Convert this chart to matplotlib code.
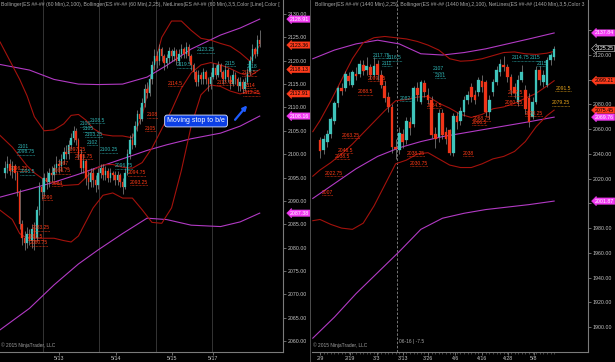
import matplotlib
matplotlib.use("Agg")
import matplotlib.pyplot as plt
import matplotlib.transforms as mtransforms
from matplotlib.ticker import FixedLocator, FixedFormatter
import numpy as np

plt.rcParams["font.family"] = ["Liberation Sans", "DejaVu Sans"]

# ---------------- 60 min panel (left) ----------------
left_first_open = 2096
left_close = [2097, 2098, 2096.5, 2097.5, 2096, 2092, 2085, 2082, 2081, 2083,
              2081.5, 2084, 2082, 2088, 2093, 2092, 2095, 2094, 2096, 2095.5,
              2097, 2098, 2097.5, 2099, 2100.5, 2100, 2102, 2103.5, 2105, 2103,
              2100, 2097, 2098.5, 2095, 2094, 2096, 2094.5, 2093.5, 2096, 2097,
              2095.5, 2096.5, 2095, 2096, 2095.5, 2094.5, 2095.5, 2094, 2093, 2096,
              2100, 2103, 2102, 2106, 2108.5, 2107.5, 2111, 2114, 2113, 2116,
              2119, 2121, 2120, 2122.5, 2121, 2119.5, 2120.5, 2122, 2121, 2122,
              2120, 2121.5, 2122.5, 2121.5, 2123, 2121, 2119, 2117.5, 2115.5, 2117,
              2116, 2117.5, 2116, 2115, 2116.5, 2118.5, 2117, 2119, 2117.5, 2116,
              2118, 2116.5, 2115, 2117, 2116, 2114.5, 2115.5, 2114, 2115.5, 2117.5,
              2120, 2122.5, 2121.5, 2124.5, 2123.5]
left_high = [2098.5, 2099.5, 2099, 2098.5, 2098, 2096.5, 2092.5, 2086, 2083.5, 2084.5,
             2084, 2085, 2085.5, 2089, 2094, 2095, 2096, 2096.5, 2097, 2097.5,
             2098, 2099.5, 2099, 2100, 2101.5, 2102, 2103, 2104.5, 2106, 2105.5,
             2103.5, 2101, 2100, 2099, 2096.5, 2097, 2097, 2095.5, 2097, 2098,
             2098, 2097.5, 2097, 2097, 2096.5, 2096.5, 2096.5, 2096, 2095, 2097,
             2101, 2104, 2104.5, 2107, 2109.5, 2110, 2112, 2115, 2115.5, 2117,
             2120, 2122.5, 2122, 2123.5, 2123, 2121.5, 2121.5, 2123, 2122.5, 2123,
             2122.5, 2122.5, 2123.5, 2123, 2124, 2123.5, 2121.5, 2119.5, 2118, 2118,
             2117.5, 2118.5, 2118, 2116.5, 2117.5, 2119.5, 2119, 2120, 2119.5, 2118,
             2119, 2118.5, 2117, 2118, 2117.5, 2116.5, 2116.5, 2116, 2116.5, 2118.5,
             2121, 2123.5, 2123, 2125.5, 2126.5]
left_low = [2095, 2096, 2095.5, 2095, 2094.5, 2091, 2084, 2080.5, 2079.5, 2080,
            2080.5, 2080, 2079.5, 2081.5, 2087, 2090.5, 2091, 2092.5, 2093, 2094,
            2094.5, 2096, 2096, 2096.5, 2098, 2099, 2099, 2101, 2102.5, 2102,
            2099, 2096, 2096, 2093.5, 2092.5, 2093, 2093, 2092, 2092.5, 2095,
            2094.5, 2094.5, 2094, 2094, 2094.5, 2093.5, 2093.5, 2093, 2091.5, 2092.5,
            2095.5, 2099, 2101, 2101.5, 2105, 2106.5, 2107, 2110, 2112, 2112.5,
            2115, 2118, 2118.5, 2119, 2120, 2118, 2118.5, 2119.5, 2120, 2120,
            2119, 2119, 2120.5, 2120.5, 2120.5, 2120, 2118, 2116, 2114.5, 2114.5,
            2115, 2115, 2115, 2113.5, 2114, 2116, 2116, 2116.5, 2116.5, 2115,
            2115.5, 2115.5, 2114, 2114.5, 2115, 2113.5, 2113.5, 2113, 2113.5, 2115,
            2117, 2119.5, 2120.5, 2121, 2123]
# intraday bars open at the previous close
left_open = [left_first_open] + left_close[:-1]

left_sessions = [15.5, 38.5, 61.5, 84.5]
left_date_pos = [22, 45.3, 68.2, 85]
left_date_lbl = ["5/13", "5/14", "5/15", "5/17"]

# Bollinger(2,25) read at sample bars
left_bb25_x = [-2, 3, 6, 9, 12, 16, 20, 24, 27, 30, 33, 36, 40, 44, 48, 52, 56,
               60, 64, 68, 72, 76, 80, 84, 88, 92, 96, 100, 104]
left_bb25_up = [2124, 2119, 2116, 2112.5, 2108, 2105, 2105.2, 2106.5, 2108.3, 2108.5,
                2107.3, 2105.5, 2104.2, 2103.9, 2103.9, 2103.5, 2108.2, 2117.2, 2125,
                2128.5, 2128.5, 2126.5, 2124.8, 2124.4, 2123.7, 2123.1, 2121.7, 2119.9, 2123.36]
left_bb25_mid = [2104, 2101.5, 2099.5, 2097.5, 2096, 2094.5, 2093.8, 2093.3, 2093.4, 2093.5,
                 2095, 2096.6, 2097.7, 2097.8, 2097.2, 2097, 2098.2, 2101.3, 2105.4,
                 2109.4, 2114.1, 2117.4, 2119.1, 2119.6, 2119.1, 2118.3, 2117.3, 2116.7, 2118.13]
left_bb25_lo = [2088, 2086, 2083, 2082, 2082, 2082, 2082, 2081.5, 2081.2, 2082.5,
                2085.5, 2088.5, 2091.2, 2091.7, 2090.6, 2090.6, 2088.1, 2085.4, 2085.2,
                2088.5, 2096.5, 2106, 2112.7, 2114.8, 2114.5, 2113.5, 2112.9, 2113.5, 2112.91]
# Bollinger(2,100) read at sample bars
left_bb100_x = [-2, 10, 20, 30, 38, 48, 58, 66, 76, 88, 96, 104]
left_bb100_up = [2119.2, 2118, 2116, 2115, 2114.9, 2115, 2116.5, 2119, 2122.5, 2125.5, 2127, 2128.91]
left_bb100_mid = [2090.8, 2092.5, 2094, 2095.7, 2097.2, 2099, 2100.8, 2102, 2103.3, 2104.5, 2106, 2108.16]
left_bb100_lo = [2062.4, 2067, 2072, 2076.5, 2079.5, 2083, 2086.3, 2086, 2084.8, 2084.5, 2085.5, 2087.38]

left_tags = [(2128.91, "pink"), (2123.36, "red"), (2118.13, "red"),
             (2112.91, "red"), (2108.16, "pink"), (2087.38, "pink")]

left_labels = [
    (5.3, 2101.7, "2101", "t"), (4.9, 2100.5, "2098.75", "t"), (2.0, 2097.0, "2096.25", "r"),
    (6.1, 2096.2, "2095.5", "t"), (21.6, 2097.9, "2087", "r"), (19.6, 2096.4, "2086.75", "r"),
    (19.2, 2093.8, "2084", "r"), (15.1, 2090.8, "2090", "r"), (11.0, 2084.2, "2083.25", "r"),
    (9.4, 2082.3, "2081.5", "r"), (10.2, 2081.0, "2080.75", "r"), (34.7, 2107.3, "2108.5", "t"),
    (30.6, 2106.5, "2106", "t"), (31.8, 2105.4, "2105", "t"), (32.7, 2104.3, "2103.25", "t"),
    (33.5, 2102.6, "2102", "t"), (38.8, 2100.9, "2100.25", "t"), (44.9, 2097.5, "2096.75", "t"),
    (50.2, 2096.0, "2094.75", "r"), (51.0, 2094.0, "2093.25", "r"), (57.1, 2105.6, "2105", "r"),
    (58.0, 2108.4, "2108", "r"), (25.7, 2101.1, "2097.25", "r"), (28.6, 2099.6, "2095.75", "r"),
    (66.5, 2115.2, "2114.5", "r"), (70.2, 2119.1, "2119.5", "t"), (78.4, 2122.3, "2123.25", "t"),
    (89.8, 2119.5, "2115", "t"), (98.8, 2118.7, "2118", "t"), (96.7, 2117.4, "2116.5", "r"),
    (86.5, 2115.4, "2113.75", "r"), (98.0, 2114.8, "2114", "r"), (97.1, 2113.1, "2112.25", "r"),
]

# ---------------- daily panel (right) ----------------
right_open = [2051, 2043, 2050, 2056, 2067, 2081, 2093, 2093, 2103, 2096,
              2105, 2105, 2112, 2108, 2110, 2104, 2113, 2104, 2095, 2086,
              2078, 2046, 2043, 2056, 2051, 2066, 2064, 2093, 2082, 2097,
              2088, 2084, 2056, 2054, 2073, 2058, 2059, 2041, 2071, 2067,
              2074, 2084, 2094, 2088, 2090, 2099, 2098, 2074, 2090, 2098,
              2106, 2112, 2110, 2102, 2094, 2082, 2100, 2092, 2085, 2070,
              2082, 2108, 2098, 2096, 2116, 2118]
right_close = [2042, 2052, 2056, 2068, 2081, 2093, 2091, 2105, 2099, 2106,
               2103, 2113, 2107, 2111, 2104, 2111, 2104, 2096, 2085, 2078,
               2046, 2044, 2057, 2050, 2067, 2061, 2093, 2088, 2098, 2090,
               2084, 2055, 2052, 2073, 2055, 2052, 2041, 2071, 2066, 2075,
               2084, 2088, 2086, 2084, 2100, 2094, 2074, 2084, 2098, 2108,
               2113, 2110, 2102, 2092, 2089, 2100, 2106, 2076, 2066, 2082,
               2108, 2100, 2104, 2116, 2120, 2125.25]
right_high = [2054, 2055, 2059, 2070, 2083, 2095, 2097, 2107, 2106, 2108,
              2110, 2116, 2116, 2118, 2113, 2118, 2116, 2108, 2099, 2090,
              2080, 2052, 2062, 2060, 2070, 2070, 2095, 2098, 2100, 2100,
              2093, 2087, 2062, 2076, 2076, 2062, 2060, 2073, 2074, 2078,
              2087, 2091, 2097, 2092, 2102, 2104, 2100, 2088, 2101, 2111,
              2117, 2119, 2113, 2105, 2097, 2104, 2112, 2096, 2089, 2086,
              2111, 2111, 2108, 2118, 2122, 2127]
right_low = [2037, 2040, 2046, 2053, 2064, 2078, 2088, 2091, 2096, 2094,
             2100, 2102, 2104, 2104, 2101, 2102, 2100, 2093, 2082, 2074,
             2041, 2036, 2040, 2045, 2048, 2055, 2062, 2083, 2080, 2086,
             2080, 2053, 2045, 2050, 2052, 2048, 2039, 2038, 2060, 2063,
             2071, 2080, 2082, 2080, 2087, 2090, 2071, 2068, 2087, 2096,
             2103, 2107, 2098, 2088, 2085, 2079, 2098, 2072, 2062, 2068,
             2080, 2096, 2094, 2094, 2112, 2116]

right_date_pos = [0, 8.3, 15.8, 23.1, 30, 37.5, 45, 52.2, 59.4]
right_date_lbl = ["2/9", "2/19", "3/3", "3/13", "3/26", "4/6", "4/16", "4/28", "5/8"]
right_marker_bar = 21.4

right_bb25_x = [-2, 0, 3, 6, 9, 12, 15, 18, 21, 24, 27, 30, 33, 36, 39, 42, 45, 48,
                51, 54, 57, 60, 63, 65]
right_bb25_up = [2058, 2067, 2083, 2100, 2117, 2130, 2134, 2135, 2134, 2133, 2131, 2128,
                 2124, 2117, 2115, 2115.5, 2117, 2119.5, 2122, 2122.5, 2121, 2120.5, 2121.5, 2122.97]
right_bb25_mid = [2022, 2027, 2033, 2040, 2048, 2057, 2066, 2075, 2083, 2084, 2086, 2086.5,
                  2081, 2077, 2072, 2069.5, 2072, 2076.5, 2078, 2081, 2085, 2089, 2095, 2099.21]
right_bb25_lo = [1986, 1987, 1983, 1980, 1979, 1984, 1998, 2015, 2032, 2035, 2040, 2041,
                 2036, 2031, 2029, 2029, 2032, 2036, 2038, 2042, 2050, 2062, 2071, 2075.45]
right_bb100_x = [-2, 4, 10, 16, 22, 28, 34, 40, 46, 52, 58, 65]
right_bb100_up = [2117, 2124, 2129, 2132, 2129, 2121, 2120, 2122, 2125, 2129, 2133, 2137.84]
right_bb100_mid = [2004, 2016, 2028, 2038, 2045, 2050, 2054, 2057, 2060, 2063, 2066, 2069.76]
right_bb100_lo = [1891, 1908, 1927, 1944, 1961, 1979, 1988, 1992, 1995, 1997, 1999, 2001.87]

right_tags = [(2137.84, "pink"), (2125.25, "last"), (2099.21, "red"),
              (2075.45, "red"), (2069.76, "pink"), (2001.87, "pink")]

right_labels = [
    (14.7, 2120.0, "2117.75", "t"), (18.6, 2117.6, "2116.5", "t"), (17.2, 2113.5, "2111", "t"),
    (13.3, 2101.4, "2099.75", "r"), (10.6, 2090.1, "2088.5", "r"), (6.1, 2055.3, "2063.25", "r"),
    (5.0, 2043.1, "2046.5", "r"), (4.2, 2038.3, "2038.5", "r"), (1.4, 2024.5, "2022.75", "r"),
    (0.6, 2009.1, "2007", "r"), (22.2, 2085.2, "2082.5", "t"), (31.4, 2108.7, "2107", "t"),
    (31.9, 2103.8, "2101", "t"), (29.7, 2079.5, "2084.5", "r"), (24.2, 2040.7, "2038.25", "r"),
    (25.0, 2032.6, "2030.75", "r"), (53.3, 2117.6, "2114.75", "t"), (58.3, 2117.6, "2115", "t"),
    (60.3, 2113.5, "2115", "t"), (65.3, 2093.3, "2091.5", "o"), (64.4, 2081.2, "2079.25", "o"),
    (52.2, 2089.3, "2087.5", "r"), (51.4, 2082.0, "2080.25", "r"), (56.9, 2073.1, "2070.25", "r"),
    (42.5, 2069.0, "2068.75", "r"), (42.2, 2065.8, "2066.5", "r"), (39.7, 2040.7, "2038", "r"),
]

# ---------------- style ----------------
UP = "#3fc4bb"
DOWN = "#ee3418"
WICK = "#8c8c8c"
BB25 = "#a3120c"
BB100 = "#b23ac4"
AXC = "#7a7a7a"
TXT = "#c4c4c4"
LBL = {"t": "#2fb3b3", "r": "#ff3a16", "o": "#e3a11a"}


def draw_candles(ax, opens, closes, highs, lows, width):
    x = np.arange(len(closes))
    o = np.array(opens, float)
    c = np.array(closes, float)
    cols = np.where(c >= o, UP, DOWN)
    ax.vlines(x, lows, highs, color=WICK, lw=0.5, zorder=3)
    ax.bar(x, np.maximum(np.abs(c - o), 0.25), width, bottom=np.minimum(o, c),
           color=cols, edgecolor=cols, lw=0.2, zorder=4)


def draw_bands(ax, xs, up, mid, lo, color):
    for ys in (up, mid, lo):
        ax.plot(xs, ys, color=color, lw=0.8, zorder=2, solid_joinstyle="round")


def price_tag(ax, price, kind):
    tr = mtransforms.blended_transform_factory(ax.transAxes, ax.transData)
    face, fg, edge = {"pink": ("#f23cf2", "white", "#f23cf2"),
                      "red": ("#ff3b1c", "black", "#ff3b1c"),
                      "last": ("black", "white", "#d0d0d0")}[kind]
    ax.text(1.025, price, f"{price:.2f}", transform=tr, ha="left", va="center",
            fontsize=3.8, color=fg, zorder=10, clip_on=False,
            bbox=dict(boxstyle="larrow,pad=0.12", fc=face, ec=edge, lw=0.4))


def style_axes(ax, ticks, hidden=()):
    ax.set_facecolor("black")
    for s in ("top", "left"):
        ax.spines[s].set_visible(False)
    for s in ("right", "bottom"):
        ax.spines[s].set_color(AXC)
        ax.spines[s].set_linewidth(0.8)
    ax.yaxis.tick_right()
    ax.yaxis.set_major_locator(FixedLocator(ticks))
    # labels that sit under a price tag are covered in the original
    ax.yaxis.set_major_formatter(FixedFormatter(
        ["" if t in hidden else f"{t:.2f}" for t in ticks]))
    ax.tick_params(axis="y", length=2, width=0.6, colors=AXC, labelcolor=TXT,
                   labelsize=3.8, pad=1.5)
    ax.tick_params(axis="x", length=2, width=0.6, colors=AXC, labelcolor=TXT,
                   labelsize=3.8, pad=1)
    ax.text(0.004, 0.012, "\u00a9 2015 NinjaTrader, LLC", transform=ax.transAxes,
            fontsize=3.5, color="#a0a0a0", ha="left", va="bottom")


def net_labels(ax, labels):
    items = []
    for bx, py, txt, kind in labels:
        t = ax.text(bx, py, txt, fontsize=3.6, color=LBL[kind], ha="left",
                    va="center", zorder=6)
        items.append((t, kind))
    return items


fig = plt.figure(figsize=(6.15, 3.62), dpi=100, facecolor="black")
axL = fig.add_axes([0, 10 / 362, 283 / 615, 352 / 362])
axR = fig.add_axes([312 / 615, 10 / 362, 276 / 615, 352 / 362])

# left panel
style_axes(axL, list(range(2060, 2131, 5)))
axL.set_xlim(-2.04, 113.5)
axL.set_ylim(2057.65, 2133.0)
for s in left_sessions:
    axL.axvline(s, color="#3c3c3c", lw=0.6, zorder=1)
draw_bands(axL, left_bb100_x, left_bb100_up, left_bb100_mid, left_bb100_lo, BB100)
draw_bands(axL, left_bb25_x, left_bb25_up, left_bb25_mid, left_bb25_lo, BB25)
draw_candles(axL, left_open, left_close, left_high, left_low, 0.6)
axL.set_xticks(left_date_pos)
axL.set_xticklabels(left_date_lbl)
for p, k in left_tags:
    price_tag(axL, p, k)
axL.text(0.003, 0.986, "Bollinger(ES ##-## (60 Min),2,100), Bollinger(ES ##-## (60 Min),2,25), "
         "NetLines(ES ##-## (60 Min),3,5,Color [Line],Color [",
         transform=axL.transAxes, fontsize=3.7, color="#a8a8a8", ha="left", va="center")
axL.text(78, 2107.1, "Moving stop to b/e", fontsize=5, color="white", ha="center",
         va="center", zorder=8,
         bbox=dict(boxstyle="round,pad=0.35", fc="#0b3fe6", ec="#dfe8ff", lw=0.6))
axL.annotate("", xy=(99.6, 2110.9), xytext=(93.2, 2106.9), zorder=8,
             arrowprops=dict(arrowstyle="-|>", color="#1f5cff", lw=1.6, mutation_scale=6))

# right panel
style_axes(axR, list(range(1900, 2141, 20)), hidden=(2140, 2100, 2000))
axR.set_xlim(-2.22, 74.4)
axR.set_ylim(1879.8, 2164.5)
axR.axvline(right_marker_bar, color="#8a8a8a", lw=0.6, ls=(0, (3, 2)), zorder=1)
axR.text(right_marker_bar + 0.4, 1888, "06-16 | -7.5", fontsize=3.5, color="#a8a8a8",
         ha="left", va="center")
draw_bands(axR, right_bb100_x, right_bb100_up, right_bb100_mid, right_bb100_lo, BB100)
draw_bands(axR, right_bb25_x, right_bb25_up, right_bb25_mid, right_bb25_lo, BB25)
draw_candles(axR, right_open, right_close, right_high, right_low, 0.75)
axR.set_xticks(right_date_pos)
axR.set_xticklabels(right_date_lbl)
axR.set_xticks(np.arange(0, 66), minor=True)
axR.tick_params(axis="x", which="minor", length=1.5, width=0.4, colors=AXC)
for p, k in right_tags:
    price_tag(axR, p, k)
axR.text(0.01, 0.986, "Bollinger(ES ##-## (1440 Min),2,25), Bollinger(ES ##-## (1440 Min),2,100), "
         "NetLines(ES ##-## (1440 Min),3,5,Color 3",
         transform=axR.transAxes, fontsize=3.7, color="#a8a8a8", ha="left", va="center")

# panel divider
fig.add_artist(plt.Line2D([309.5 / 615] * 2, [0, 1], color="#5a5a5a", lw=0.6))

# NetLines price labels with dotted underline
texts = net_labels(axL, left_labels) + net_labels(axR, right_labels)
fig.canvas.draw()
for t, kind in texts:
    ax = t.axes
    bb = t.get_window_extent()
    inv = ax.transData.inverted()
    (x0, y0), (x1, _) = inv.transform([(bb.x0, bb.y0 - 0.5), (bb.x1, bb.y0)])
    ax.plot([x0, x1], [y0, y0], color=LBL[kind], lw=0.5, ls=(0, (1, 1)), zorder=6)

fig.savefig("out.png", dpi=100, facecolor="black")
